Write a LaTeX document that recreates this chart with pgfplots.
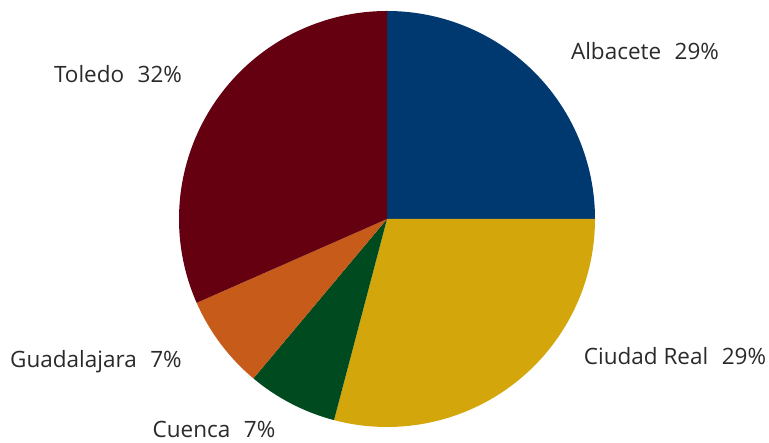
\documentclass[border=0pt]{standalone}
\usepackage{pgfplots}
\pgfplotsset{compat=1.18}
\usepackage{pgfplotstable}
\usepackage{fontspec}
\setmainfont{Open Sans}
\definecolor{cAlb}{HTML}{003870}
\definecolor{cCR}{HTML}{D3A70B}
\definecolor{cCue}{HTML}{004A1F}
\definecolor{cGua}{HTML}{C65B1A}
\definecolor{cTol}{HTML}{650010}
\definecolor{txt}{HTML}{2A2A2A}
% pie shares (percent of the full circle)
\pgfplotstableread{
name value
Albacete 25.0
CiudadReal 29.1
Cuenca 7.0
Guadalajara 7.3
Toledo 31.6
}\piedata
\newcommand{\slice}[3]{%
  \fill[#1] (axis cs:387,224) -- ++(#2:208pt) arc[start angle=#2, end angle=#3, radius=208pt] -- cycle;}
\newcommand{\gap}{\hspace{0.6em}}
\begin{document}
\begin{tikzpicture}
\begin{axis}[
  width=769pt, height=443pt, scale only axis,
  xmin=0, xmax=769, ymin=0, ymax=443,
  hide axis, clip=false,
]
\path (axis cs:0,0) rectangle (axis cs:769,443);
\pgfmathsetmacro{\aA}{90}
\pgfplotstablegetelem{0}{value}\of\piedata \pgfmathsetmacro{\aB}{\aA-3.6*\pgfplotsretval}
\pgfplotstablegetelem{1}{value}\of\piedata \pgfmathsetmacro{\aC}{\aB-3.6*\pgfplotsretval}
\pgfplotstablegetelem{2}{value}\of\piedata \pgfmathsetmacro{\aD}{\aC-3.6*\pgfplotsretval}
\pgfplotstablegetelem{3}{value}\of\piedata \pgfmathsetmacro{\aE}{\aD-3.6*\pgfplotsretval}
\pgfplotstablegetelem{4}{value}\of\piedata \pgfmathsetmacro{\aF}{\aE-3.6*\pgfplotsretval}
\slice{cAlb}{\aA}{\aB}
\slice{cCR}{\aB}{\aC}
\slice{cCue}{\aC}{\aD}
\slice{cGua}{\aD}{\aE}
\slice{cTol}{\aE}{\aF}
\begin{scope}[every node/.style={font=\fontsize{22.5}{26}\selectfont, text=txt, inner sep=0pt, anchor=base}]
\node at (axis cs:645,383) {Albacete\gap 29\%};
\node at (axis cs:675,78) {Ciudad Real\gap 29\%};
\node at (axis cs:214,5) {Cuenca\gap 7\%};
\node at (axis cs:96,75) {Guadalajara\gap 7\%};
\node at (axis cs:118,360) {Toledo\gap 32\%};
\end{scope}
\end{axis}
\end{tikzpicture}
\end{document}
